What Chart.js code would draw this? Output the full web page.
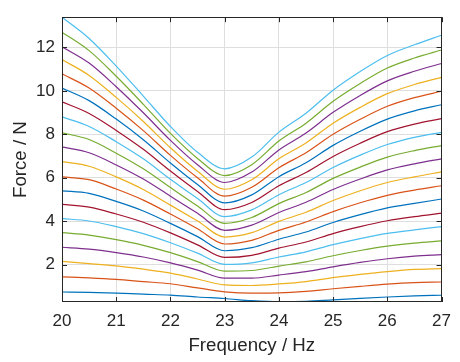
<!DOCTYPE html>
<html>
<head>
<meta charset="utf-8">
<script src="https://cdn.jsdelivr.net/npm/chart.js@4.4.0/dist/chart.umd.min.js"></script>
<style>
  html, body { margin: 0; padding: 0; background: #fff; }
  #chart { display: block; }
</style>
</head>
<body>
<canvas id="chart" width="460" height="362"></canvas>
<script>
// frequency sweep (Hz)
const freq = [20, 20.5, 21, 21.5, 22, 22.5, 23, 23.5, 24, 24.5, 25, 25.5, 26, 26.5, 27];

// force curves (N), lowest to highest
const force01 = [0.74, 0.72, 0.69, 0.64, 0.60, 0.51, 0.44, 0.34, 0.29, 0.31, 0.38, 0.45, 0.51, 0.56, 0.59];
const force02 = [1.44, 1.39, 1.32, 1.22, 1.12, 0.93, 0.75, 0.69, 0.70, 0.77, 0.89, 1.00, 1.10, 1.17, 1.20];
const force03 = [2.15, 2.05, 1.94, 1.79, 1.61, 1.34, 1.07, 1.04, 1.11, 1.22, 1.40, 1.55, 1.68, 1.78, 1.82];
const force04 = [2.80, 2.71, 2.55, 2.35, 2.08, 1.75, 1.38, 1.38, 1.52, 1.68, 1.90, 2.10, 2.27, 2.39, 2.46];
const force05 = [3.47, 3.36, 3.15, 2.89, 2.55, 2.14, 1.70, 1.73, 1.93, 2.13, 2.41, 2.65, 2.85, 2.99, 3.09];
const force06 = [4.12, 4.01, 3.75, 3.43, 3.01, 2.53, 2.01, 2.08, 2.35, 2.59, 2.92, 3.20, 3.44, 3.60, 3.75];
const force07 = [4.77, 4.65, 4.33, 3.95, 3.46, 2.91, 2.33, 2.43, 2.76, 3.04, 3.43, 3.75, 4.02, 4.21, 4.37];
const force08 = [5.40, 5.28, 4.91, 4.47, 3.90, 3.29, 2.64, 2.78, 3.17, 3.50, 3.94, 4.30, 4.61, 4.82, 5.02];
const force09 = [6.04, 5.91, 5.48, 4.97, 4.33, 3.65, 2.95, 3.12, 3.58, 3.96, 4.44, 4.85, 5.19, 5.43, 5.63];
const force10 = [6.74, 6.53, 6.04, 5.46, 4.74, 4.01, 3.27, 3.47, 3.99, 4.41, 4.95, 5.40, 5.78, 6.04, 6.27];
const force11 = [7.42, 7.15, 6.59, 5.94, 5.15, 4.36, 3.58, 3.82, 4.40, 4.87, 5.46, 5.94, 6.36, 6.64, 6.87];
const force12 = [8.07, 7.76, 7.13, 6.41, 5.55, 4.70, 3.90, 4.17, 4.81, 5.32, 5.97, 6.49, 6.95, 7.25, 7.48];
const force13 = [8.80, 8.36, 7.66, 6.87, 5.93, 5.04, 4.21, 4.52, 5.22, 5.78, 6.47, 7.04, 7.53, 7.86, 8.09];
const force14 = [9.49, 8.96, 8.18, 7.31, 6.31, 5.37, 4.53, 4.86, 5.63, 6.24, 6.98, 7.59, 8.12, 8.47, 8.72];
const force15 = [10.13, 9.55, 8.70, 7.75, 6.68, 5.69, 4.84, 5.21, 6.05, 6.69, 7.49, 8.14, 8.70, 9.08, 9.36];
const force16 = [10.78, 10.13, 9.20, 8.17, 7.03, 6.00, 5.15, 5.56, 6.46, 7.15, 8.00, 8.69, 9.29, 9.69, 9.98];
const force17 = [11.44, 10.71, 9.70, 8.59, 7.38, 6.30, 5.47, 5.91, 6.87, 7.60, 8.51, 9.24, 9.87, 10.29, 10.62];
const force18 = [12.03, 11.28, 10.19, 8.99, 7.72, 6.60, 5.78, 6.26, 7.28, 8.06, 9.01, 9.79, 10.46, 10.90, 11.26];
const force19 = [12.70, 11.85, 10.67, 9.38, 8.04, 6.89, 6.10, 6.60, 7.69, 8.51, 9.52, 10.34, 11.05, 11.51, 11.88];
const force20 = [13.39, 12.41, 11.14, 9.76, 8.36, 7.17, 6.41, 6.95, 8.10, 8.97, 10.03, 10.89, 11.63, 12.12, 12.56];

const curves = [force01, force02, force03, force04, force05, force06, force07, force08, force09, force10,
                force11, force12, force13, force14, force15, force16, force17, force18, force19, force20];

const xTicks = [20, 21, 22, 23, 24, 25, 26, 27];
const yTicks = [2, 4, 6, 8, 10, 12];

// default line colour order, repeated
const lineColors = ['#0072BD', '#D95319', '#EDB120', '#7E2F8E', '#77AC30', '#4DBEEE', '#A2142F'];

const fontFamily = '"Liberation Sans", Arial, Helvetica, sans-serif';
const axisColor = '#262626';

const datasets = curves.map((vals, i) => ({
  data: vals.map((v, j) => ({ x: freq[j], y: v })),
  borderColor: lineColors[i % lineColors.length],
  borderWidth: 1.2,
  pointRadius: 0,
  fill: false,
  cubicInterpolationMode: 'monotone'
}));

// box around the axes plus inward tick marks
const axesBox = {
  id: 'axesBox',
  afterDatasetsDraw(chart) {
    const { ctx, chartArea: a, scales: { x, y } } = chart;
    const len = 5;
    ctx.save();
    ctx.strokeStyle = axisColor;
    ctx.lineWidth = 1;
    ctx.beginPath();
    xTicks.forEach(v => {
      const px = Math.round(x.getPixelForValue(v)) + 0.5;
      ctx.moveTo(px, a.bottom); ctx.lineTo(px, a.bottom - len);
      ctx.moveTo(px, a.top); ctx.lineTo(px, a.top + len);
    });
    yTicks.forEach(v => {
      const py = Math.round(y.getPixelForValue(v)) + 0.5;
      ctx.moveTo(a.left, py); ctx.lineTo(a.left + len, py);
      ctx.moveTo(a.right, py); ctx.lineTo(a.right - len, py);
    });
    ctx.stroke();
    ctx.strokeRect(Math.round(a.left) + 0.5, Math.round(a.top) + 0.5,
                   Math.round(a.right - a.left) - 1, Math.round(a.bottom - a.top) - 1);
    ctx.restore();
  }
};

new Chart(document.getElementById('chart'), {
  type: 'line',
  data: { datasets: datasets },
  plugins: [axesBox],
  options: {
    responsive: false,
    animation: false,
    layout: { padding: { left: 0, right: 7, top: 7, bottom: 0 } },
    plugins: { legend: { display: false }, tooltip: { enabled: false } },
    scales: {
      x: {
        type: 'linear',
        min: 20,
        max: 27,
        afterFit(scale) { scale.height = 60; },
        afterBuildTicks(scale) { scale.ticks = xTicks.map(v => ({ value: v })); },
        grid: { color: '#dedede', lineWidth: 1, drawTicks: false },
        border: { display: false },
        ticks: {
          color: axisColor,
          padding: 9,
          maxRotation: 0,
          font: { family: fontFamily, size: 17 },
          callback: v => String(v)
        },
        title: {
          display: true,
          text: 'Frequency / Hz',
          color: axisColor,
          font: { family: fontFamily, size: 18.7 },
          padding: { top: 0, bottom: 5 }
        }
      },
      y: {
        type: 'linear',
        min: 0.28,
        max: 13.39,
        afterFit(scale) { scale.width = 62; },
        afterBuildTicks(scale) { scale.ticks = yTicks.map(v => ({ value: v })); },
        grid: { color: '#dedede', lineWidth: 1, drawTicks: false },
        border: { display: false },
        ticks: {
          color: axisColor,
          padding: 7,
          font: { family: fontFamily, size: 17 },
          callback: v => String(v)
        },
        title: {
          display: true,
          text: 'Force / N',
          color: axisColor,
          font: { family: fontFamily, size: 18.7 },
          padding: { top: 10, bottom: 0 }
        }
      }
    }
  }
});
</script>
</body>
</html>
